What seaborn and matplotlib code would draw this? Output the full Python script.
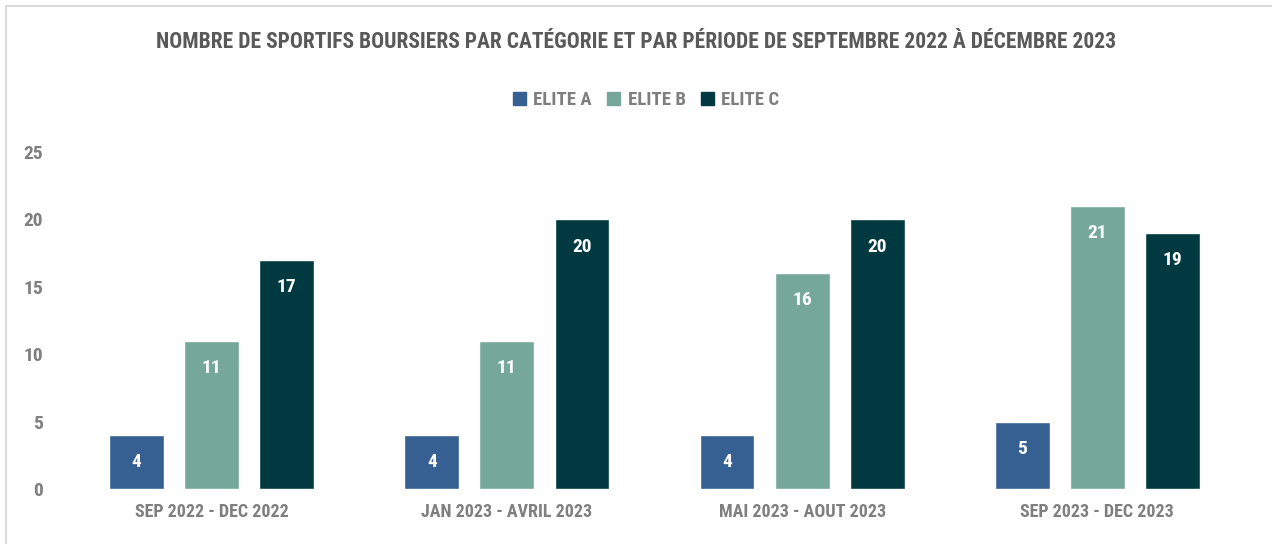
import pandas as pd
import numpy as np
import seaborn as sns
import matplotlib.pyplot as plt
from matplotlib import font_manager
from matplotlib.patches import Rectangle

# data
periods = ['SEP 2022 - DEC 2022', 'JAN 2023 - AVRIL 2023', 'MAI 2023 - AOUT 2023', 'SEP 2023 - DEC 2023']
elite_a = [4, 4, 4, 5]
elite_b = [11, 11, 16, 21]
elite_c = [17, 20, 20, 19]
categories = ['ELITE A', 'ELITE B', 'ELITE C']

df = pd.DataFrame({'periode': periods, 'ELITE A': elite_a, 'ELITE B': elite_b, 'ELITE C': elite_c})
df = df.melt(id_vars='periode', var_name='categorie', value_name='nombre')

sns.set_style('white')
names = sorted({f.name for f in font_manager.fontManager.ttflist})
condensed = [n for n in ['Liberation Sans Narrow', 'DejaVu Sans Condensed', 'Roboto Condensed'] if n in names]
plt.rcParams['font.family'] = condensed + ['DejaVu Sans']
plt.rcParams['font.stretch'] = 'condensed'

colors = ['#366092', '#76A89A', '#003A40']

fig = plt.figure(figsize=(12.72, 5.44), dpi=100)
ax = fig.add_axes([64/1272, 1 - 489/544, (1245-64)/1272, (489-152)/544])

sns.barplot(data=df, x='periode', y='nombre', hue='categorie', hue_order=categories,
            palette=colors, width=0.763, gap=0.27, saturation=1, ax=ax, legend=False)

for cont in ax.containers:
    ax.bar_label(cont, label_type='edge', padding=-26, color='white', fontsize=14, fontweight='bold')

ax.set_ylim(0, 25)
ax.set_xlim(-0.5, 3.5)
ax.set_yticks([0, 5, 10, 15, 20, 25])
ax.set_xlabel('')
ax.set_ylabel('')
ax.tick_params(axis='y', length=0, pad=15, labelsize=14, labelcolor='#7f7f7f')
ax.tick_params(axis='x', length=0, pad=10, labelsize=13, labelcolor='#7f7f7f')
for lab in ax.get_xticklabels() + ax.get_yticklabels():
    lab.set_fontweight('bold')
sns.despine(ax=ax, left=True, bottom=True)

# frame of the chart area
fig.add_artist(Rectangle((6/1272, -0.1), 1.2, 1 - 6/544 + 0.1, transform=fig.transFigure,
                         fill=False, edgecolor='#d9d9d9', linewidth=1.5))

fig.text(0.5, 1 - 42/544, 'NOMBRE DE SPORTIFS BOURSIERS PAR CATÉGORIE ET PAR PÉRIODE DE SEPTEMBRE 2022 À DÉCEMBRE 2023',
         ha='center', va='center', fontsize=15.5 if condensed else 12, fontweight='bold', color='#595959')

handles = [Rectangle((0, 0), 1, 1, color=c) for c in colors]
fig.legend(handles, categories, loc='center', bbox_to_anchor=(0.508, 1 - 100/544), ncol=3,
           frameon=False, prop={'size': 13.5, 'weight': 'bold'}, labelcolor='#7f7f7f',
           handlelength=0.7, handleheight=0.7, handletextpad=0.4, columnspacing=0.8)

plt.savefig('out.png', dpi=100)
